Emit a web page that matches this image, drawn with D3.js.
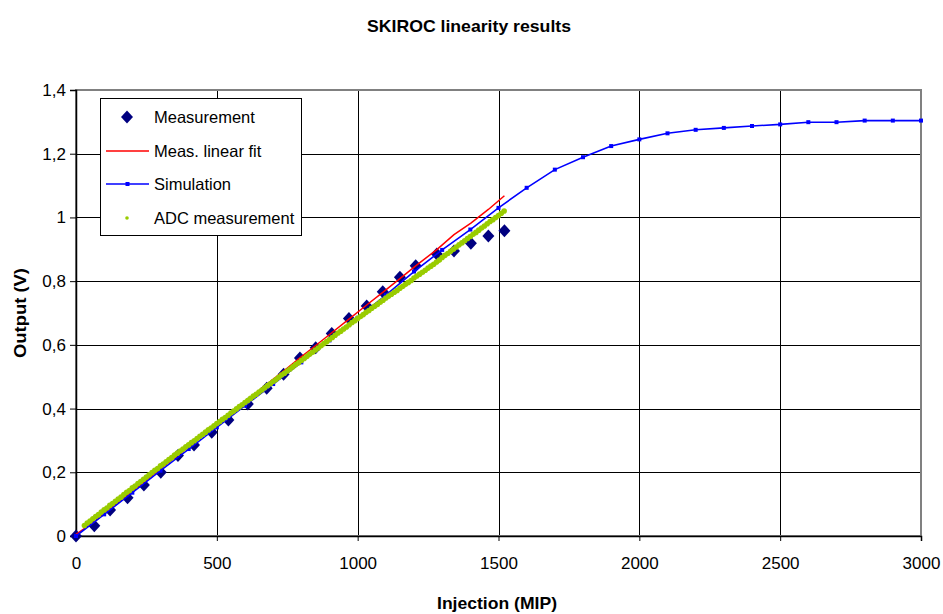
<!DOCTYPE html>
<html>
<head>
<meta charset="utf-8">
<script src="https://cdn.jsdelivr.net/npm/d3@7"></script>
<style>
body { margin: 0; background: #fff; }
text { font-family: Arial, "Liberation Sans", sans-serif; fill: #000; }
</style>
</head>
<body>
<div id="chart-container"></div>
<script>
// measured points (diamonds)
const measX = [0, 65, 121, 183, 241, 301, 362, 419, 482, 541, 610, 677, 737, 795, 851, 908, 969, 1032, 1089, 1150, 1206, 1281, 1342, 1402, 1464, 1521];
const measY = [0, 0.032, 0.082, 0.120, 0.160, 0.200, 0.253, 0.286, 0.326, 0.364, 0.414, 0.464, 0.508, 0.559, 0.591, 0.636, 0.683, 0.722, 0.767, 0.812, 0.848, 0.885, 0.895, 0.919, 0.942, 0.958];

// linear fit evaluated at the measurement points
const fitY = [0.005, 0.045, 0.085, 0.128, 0.169, 0.211, 0.254, 0.294, 0.338, 0.380, 0.428, 0.476, 0.518, 0.559, 0.598, 0.638, 0.681, 0.725, 0.765, 0.808, 0.848, 0.899, 0.946, 0.982, 1.025, 1.068];

// simulation
const simX = [0, 100, 200, 300, 400, 500, 600, 700, 800, 900, 1000, 1100, 1200, 1300, 1400, 1500,
              1600, 1700, 1800, 1900, 2000, 2100, 2200, 2300, 2400, 2500, 2600, 2700, 2800, 2900, 3000];
const simY = [0, 0.068, 0.136, 0.205, 0.273, 0.341, 0.409, 0.477, 0.545, 0.614, 0.685, 0.756, 0.830, 0.898, 0.962, 1.030,
              1.093, 1.150, 1.189, 1.224, 1.245, 1.264, 1.275, 1.281, 1.287, 1.292, 1.299, 1.299, 1.304, 1.304, 1.304];

// ADC measurement, one sample every 10 MIP from 30 to 1520
const adcX = d3.range(30, 1521, 10);
const adcY = [
  0.033, 0.041, 0.047, 0.054, 0.061, 0.067, 0.075, 0.082, 0.088, 0.096,
  0.102, 0.109, 0.116, 0.122, 0.130, 0.137, 0.143, 0.151, 0.157, 0.165,
  0.171, 0.178, 0.185, 0.192, 0.199, 0.206, 0.212, 0.220, 0.226, 0.233,
  0.240, 0.246, 0.254, 0.260, 0.267, 0.273, 0.280, 0.286, 0.293, 0.299,
  0.306, 0.313, 0.319, 0.326, 0.333, 0.339, 0.346, 0.353, 0.359, 0.366,
  0.372, 0.379, 0.386, 0.392, 0.399, 0.406, 0.412, 0.419, 0.425, 0.432,
  0.439, 0.445, 0.452, 0.458, 0.465, 0.472, 0.478, 0.485, 0.491, 0.498,
  0.505, 0.511, 0.518, 0.524, 0.531, 0.538, 0.544, 0.551, 0.557, 0.564,
  0.571, 0.577, 0.584, 0.590, 0.597, 0.604, 0.610, 0.617, 0.623, 0.630,
  0.637, 0.643, 0.650, 0.656, 0.663, 0.670, 0.676, 0.683, 0.689, 0.695,
  0.702, 0.708, 0.715, 0.721, 0.727, 0.734, 0.740, 0.747, 0.753, 0.759,
  0.765, 0.771, 0.778, 0.784, 0.790, 0.796, 0.802, 0.810, 0.816, 0.822,
  0.828, 0.834, 0.841, 0.847, 0.853, 0.860, 0.866, 0.874, 0.881, 0.887,
  0.894, 0.900, 0.907, 0.914, 0.920, 0.927, 0.934, 0.940, 0.947, 0.953,
  0.960, 0.967, 0.973, 0.980, 0.987, 0.993, 1.000, 1.006, 1.013, 1.020
];

const xTicks = [0, 500, 1000, 1500, 2000, 2500, 3000];
const yTicks = [0, 0.2, 0.4, 0.6, 0.8, 1, 1.2, 1.4];
const legendLabels = ["Measurement", "Meas. linear fit", "Simulation", "ADC measurement"];

const colors = { meas: "#000080", fit: "#ff0000", sim: "#0000ff", adc: "#99cc00" };

const W = 943, H = 614;
const plot = { left: 76, right: 921, top: 90, bottom: 536 };

const svg = d3.select("#chart-container").append("svg")
    .attr("width", W).attr("height", H)
    .style("display", "block");

const x = d3.scaleLinear().domain([0, 3000]).range([plot.left, plot.right]);
const y = d3.scaleLinear().domain([0, 1.4]).range([plot.bottom, plot.top]);

const fmtY = d => d3.format("~g")(d).replace(".", ",");

// gridlines
svg.append("g")
    .attr("transform", `translate(0,${plot.bottom})`)
    .call(d3.axisBottom(x).tickValues(xTicks).tickSize(-(plot.bottom - plot.top)).tickFormat(""))
    .call(g => g.select(".domain").remove())
    .call(g => g.selectAll("line").attr("stroke", "#000").attr("stroke-width", 1).attr("shape-rendering", "crispEdges"));

svg.append("g")
    .attr("transform", `translate(${plot.left},0)`)
    .call(d3.axisLeft(y).tickValues(yTicks).tickSize(-(plot.right - plot.left)).tickFormat(""))
    .call(g => g.select(".domain").remove())
    .call(g => g.selectAll("line").attr("stroke", "#000").attr("stroke-width", 1).attr("shape-rendering", "crispEdges"));

// plot frame (top / right grey)
svg.append("rect")
    .attr("x", plot.left).attr("y", plot.top)
    .attr("width", plot.right - plot.left).attr("height", plot.bottom - plot.top)
    .attr("fill", "none").attr("stroke", "#808080").attr("stroke-width", 2);

// axes
const xAxis = svg.append("g")
    .attr("transform", `translate(0,${plot.bottom})`)
    .call(d3.axisBottom(x).tickValues(xTicks).tickSize(5).tickPadding(16).tickFormat(d3.format("d")));
xAxis.select(".domain").attr("stroke", "#000").attr("stroke-width", 1.5);
xAxis.selectAll("line").attr("stroke", "#000");
xAxis.selectAll("text").style("font-size", "17px");

const yAxis = svg.append("g")
    .attr("transform", `translate(${plot.left},0)`)
    .call(d3.axisLeft(y).tickValues(yTicks).tickSize(6).tickPadding(4).tickFormat(fmtY));
yAxis.select(".domain").attr("stroke", "#000").attr("stroke-width", 1.5);
yAxis.selectAll("line").attr("stroke", "#000");
yAxis.selectAll("text").style("font-size", "17px");

// series
const meas = measX.map((d, i) => ({ x: d, y: measY[i] }));
const fit = measX.map((d, i) => ({ x: d, y: fitY[i] }));
const sim = simX.map((d, i) => ({ x: d, y: simY[i] }));
const adc = adcX.map((d, i) => ({ x: d, y: adcY[i] }));

const line = d3.line().x(d => x(d.x)).y(d => y(d.y));
const diamond = "M0,-6.5L6,0L0,6.5L-6,0Z";

svg.append("g").selectAll("path")
    .data(meas)
    .join("path")
    .attr("d", diamond)
    .attr("transform", d => `translate(${x(d.x)},${y(d.y)})`)
    .attr("fill", colors.meas);

svg.append("path")
    .datum(fit)
    .attr("d", line)
    .attr("fill", "none")
    .attr("stroke", colors.fit)
    .attr("stroke-width", 1.5);

svg.append("path")
    .datum(sim)
    .attr("d", line)
    .attr("fill", "none")
    .attr("stroke", colors.sim)
    .attr("stroke-width", 1.6);

svg.append("g").selectAll("rect")
    .data(sim)
    .join("rect")
    .attr("x", d => x(d.x) - 2)
    .attr("y", d => y(d.y) - 2)
    .attr("width", 4).attr("height", 4)
    .attr("fill", colors.sim);

svg.append("g").selectAll("circle")
    .data(adc)
    .join("circle")
    .attr("cx", d => x(d.x))
    .attr("cy", d => y(d.y))
    .attr("r", 2.8)
    .attr("fill", colors.adc);

// legend
const legend = svg.append("g");
legend.append("rect")
    .attr("x", 100.5).attr("y", 98.5).attr("width", 201).attr("height", 137)
    .attr("fill", "#fff").attr("stroke", "#000").attr("stroke-width", 1);

const rowY = [117, 151, 184, 218];
legendLabels.forEach((label, i) => {
    const ly = rowY[i];
    if (i === 0) {
        legend.append("path").attr("d", diamond).attr("transform", `translate(127,${ly})`).attr("fill", colors.meas);
    } else if (i === 1) {
        legend.append("line").attr("x1", 106).attr("x2", 149).attr("y1", ly).attr("y2", ly)
            .attr("stroke", colors.fit).attr("stroke-width", 1.5);
    } else if (i === 2) {
        legend.append("line").attr("x1", 106).attr("x2", 149).attr("y1", ly).attr("y2", ly)
            .attr("stroke", colors.sim).attr("stroke-width", 1.6);
        legend.append("rect").attr("x", 125.5).attr("y", ly - 2).attr("width", 4).attr("height", 4).attr("fill", colors.sim);
    } else {
        legend.append("circle").attr("cx", 127).attr("cy", ly).attr("r", 1.8).attr("fill", colors.adc);
    }
    legend.append("text")
        .attr("x", 154).attr("y", ly + 6)
        .style("font-size", "16.5px")
        .text(label);
});

// titles
svg.append("text")
    .attr("x", 469).attr("y", 32)
    .attr("text-anchor", "middle")
    .attr("textLength", 204).attr("lengthAdjust", "spacingAndGlyphs")
    .style("font-size", "17px").style("font-weight", "bold")
    .text("SKIROC linearity results");

svg.append("text")
    .attr("x", 497).attr("y", 609)
    .attr("text-anchor", "middle")
    .attr("textLength", 120).attr("lengthAdjust", "spacingAndGlyphs")
    .style("font-size", "17px").style("font-weight", "bold")
    .text("Injection (MIP)");

svg.append("text")
    .attr("transform", "translate(26,313) rotate(-90)")
    .attr("text-anchor", "middle")
    .attr("textLength", 90).attr("lengthAdjust", "spacingAndGlyphs")
    .style("font-size", "17px").style("font-weight", "bold")
    .text("Output (V)");
</script>
</body>
</html>
